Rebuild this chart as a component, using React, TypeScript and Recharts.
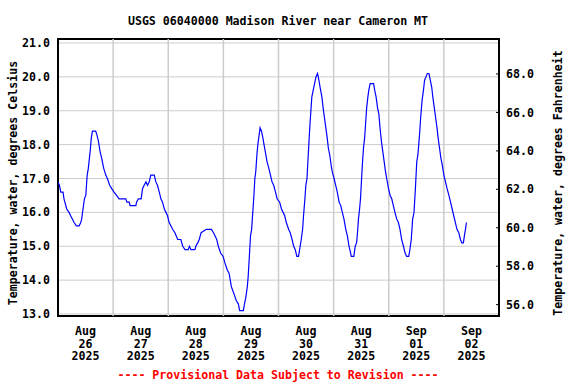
import { LineChart, Line, XAxis, YAxis, CartesianGrid, ReferenceArea, ReferenceLine } from 'recharts'

// hours since Aug 26 2025 00:00
const hours = [
  0, 0.6, 1.2, 2.2, 2.6, 3, 3.8, 4.8, 5.5, 6.3, 7, 8, 9.2, 9.9, 10.3, 10.9, 11.5, 12.1, 12.7, 13.2,
  14, 14.5, 15, 16.4, 16.9, 17.6, 18.3, 19, 19.9, 20.8, 21.5, 22.5, 23.4, 24.4, 25.5, 26.6, 29.5, 30,
  31, 31.4, 33.9, 34.2, 35, 36.2, 36.8, 37.5, 38.3, 39, 39.7, 40.4, 41.9, 42.6, 43.3, 44.1, 44.8, 45.5,
  46.3, 47, 47.7, 48.4, 49.2, 49.9, 50.9, 52.1, 53.5, 54.3, 55.3, 56.7, 57.2, 57.9, 59.6, 60, 60.8,
  61.5, 62.3, 64.6, 66.8, 67.7, 68.4, 69.1, 69.8, 70.8, 71.9, 72.7, 73.7, 74.5, 75.5, 76.6, 77.6, 78.5,
  79.1, 80.7, 81.2, 81.8, 82.4, 82.8, 83.4, 83.8, 84.3, 84.8, 85.3, 85.7, 86.1, 86.6, 87, 87.4, 88,
  88.6, 89.2, 89.7, 90.5, 91, 91.8, 92.5, 93.2, 93.9, 94.7, 95.4, 96.5, 97.3, 98, 98.7, 99.4, 100.4,
  101.1, 101.9, 102.6, 103.3, 104, 104.7, 105.2, 105.9, 106.5, 106.9, 107.5, 107.9, 108.4, 108.8,
  109.2, 109.7, 110.1, 110.5, 111.1, 111.7, 112.3, 113, 113.6, 114.1, 114.9, 115.4, 116, 116.6, 117.2,
  117.7, 118.3, 118.9, 119.4, 120.2, 120.9, 121.6, 122.4, 123.1, 123.8, 124.5, 125.3, 126, 126.7,
  127.4, 127.7, 128.8, 129.4, 130, 130.4, 130.8, 131.3, 131.7, 132.1, 132.5, 133, 133.5, 133.9, 134.4,
  134.9, 135.3, 135.9, 137.4, 137.9, 138.5, 139.1, 139.7, 140.2, 140.8, 141.4, 142, 142.6, 143.1,
  143.9, 144.6, 145.3, 146, 146.7, 147.5, 148.2, 148.9, 149.6, 150.4, 151.1, 151.8, 152.7, 153.2,
  153.8, 154.4, 155, 155.6, 156.2, 156.7, 157.3, 157.9, 158.5, 159.1, 159.6, 160.2, 160.8, 161.5,
  162.1, 162.7, 163.2, 163.8, 164.4, 165, 165.5, 166.1, 166.7, 167.3, 168, 168.7, 169.4, 170.2, 170.9,
  171.6, 172.3, 173, 173.7, 174.5, 175.2, 175.8, 176.5, 176.9, 177.4, 177.8,
]

const tempC = [
  16.9, 16.8, 16.6, 16.6, 16.4, 16.3, 16.1, 16.0, 15.9, 15.8, 15.7, 15.6, 15.6, 15.7, 15.8, 16.1, 16.4, 16.5, 17.1, 17.3,
  17.8, 18.2, 18.4, 18.4, 18.3, 18.1, 17.8, 17.6, 17.3, 17.1, 17.0, 16.8, 16.7, 16.6, 16.5, 16.4, 16.4, 16.3,
  16.3, 16.2, 16.2, 16.3, 16.4, 16.4, 16.7, 16.8, 16.9, 16.8, 16.9, 17.1, 17.1, 16.9, 16.8, 16.6, 16.4, 16.3,
  16.1, 16.0, 15.9, 15.7, 15.6, 15.5, 15.4, 15.2, 15.2, 15.0, 14.9, 14.9, 15.0, 14.9, 14.9, 15.0, 15.1,
  15.2, 15.4, 15.5, 15.5, 15.4, 15.3, 15.2, 15.0, 14.8, 14.7, 14.5, 14.3, 14.2, 13.8, 13.6, 13.4, 13.3,
  13.1, 13.1, 13.3, 13.5, 13.8, 14.1, 14.8, 15.3, 15.5, 16.0, 16.5, 17.0, 17.2, 17.7, 18.0, 18.2, 18.5,
  18.4, 18.2, 18.0, 17.7, 17.5, 17.3, 17.1, 16.9, 16.8, 16.6, 16.4, 16.3, 16.1, 16.0, 15.9, 15.7, 15.5,
  15.4, 15.2, 15.0, 14.9, 14.7, 14.7, 14.9, 15.2, 15.5, 15.9, 16.4, 16.8, 17.0, 17.5,
  18.0, 18.6, 19.0, 19.4, 19.6, 19.8, 20.0, 20.1, 19.9, 19.7, 19.4, 19.1, 18.8, 18.5, 18.2,
  17.9, 17.7, 17.4, 17.2, 17.0, 16.8, 16.6, 16.3, 16.2, 16.0, 15.8, 15.5, 15.3, 15.0,
  14.8, 14.7, 14.7, 15.0, 15.1, 15.4, 15.8, 16.1, 16.4, 16.9, 17.4, 17.9, 18.2, 18.6, 19.1,
  19.4, 19.6, 19.8, 19.8, 19.6, 19.4, 19.1, 18.9, 18.5, 18.1, 17.8, 17.5, 17.2, 17.0,
  16.7, 16.5, 16.4, 16.2, 16.0, 15.8, 15.7, 15.5, 15.2, 15.0, 14.8, 14.7, 14.7, 14.9,
  15.2, 15.8, 16.0, 16.7, 17.5, 17.7, 18.2, 18.8, 19.3, 19.6, 19.9, 20.0, 20.1, 20.1,
  19.9, 19.7, 19.4, 19.1, 18.8, 18.5, 18.2, 17.9, 17.6, 17.4, 17.1, 16.9, 16.7, 16.5, 16.3,
  16.1, 15.9, 15.7, 15.5, 15.4, 15.2, 15.1, 15.1, 15.3, 15.5, 15.7,
]

const midnightTicks = [24, 48, 72, 96, 120, 144, 168]
const dayTicks = [12, 36, 60, 84, 108, 132, 156, 180]
const dayMonths = ['Aug', 'Aug', 'Aug', 'Aug', 'Aug', 'Aug', 'Sep', 'Sep']
const dayNums = ['26', '27', '28', '29', '30', '31', '01', '02']
const dayYears = ['2025', '2025', '2025', '2025', '2025', '2025', '2025', '2025']
const celsiusTicks = [13, 14, 15, 16, 17, 18, 19, 20, 21]
const fahrenheitTicks = [56, 58, 60, 62, 64, 66, 68]

const cDomain = [12.941, 21.118]
const fDomain = [55.41, 69.82]

const data = hours.map((h, i) => ({ h, c: tempC[i], f: tempC[i] * 1.8 + 32 }))

const FONT = '"DejaVu Sans Mono", monospace'
const textStyle = { fontFamily: FONT, fontWeight: 'bold' as const, fontSize: 11.6 }

function DayTick({ x, y, payload }: any) {
  const i = dayTicks.indexOf(payload.value)
  if (i < 0) return null
  return (
    <text x={x} textAnchor='middle' fill='#000' style={textStyle}>
      <tspan x={x} y={y + 19}>{dayMonths[i]}</tspan>
      <tspan x={x} y={y + 31.5}>{dayNums[i]}</tspan>
      <tspan x={x} y={y + 44}>{dayYears[i]}</tspan>
    </text>
  )
}

function FTick({ x, y, payload }: any) {
  return (
    <g>
      <line x1={x - 7} x2={x - 10} y1={y} y2={y} stroke='#000' strokeWidth={1} />
      <text x={x} y={y} dy='0.36em' textAnchor='start' fill='#000' style={textStyle}>
        {payload.value.toFixed(1)}
      </text>
    </g>
  )
}

export default function App() {
  return (
    <div style={{ position: 'absolute', left: 0, top: 0, width: 576, height: 384, background: '#fff' }}>
      <LineChart width={576} height={384} data={data} margin={{ top: 39, right: 0, bottom: 8, left: 0 }}>
        <XAxis
          dataKey='h'
          type='number'
          domain={[0, 192]}
          ticks={dayTicks}
          allowDataOverflow
          height={60}
          tickSize={0}
          tickMargin={0}
          axisLine={false}
          tickLine={false}
          interval={0}
          tick={<DayTick />}
        />
        <YAxis
          type='number'
          domain={cDomain}
          ticks={celsiusTicks}
          allowDataOverflow
          width={58}
          tickSize={0}
          tickMargin={8}
          axisLine={false}
          tickLine={false}
          interval={0}
          tickFormatter={(v: number) => v.toFixed(1)}
          tick={{ fill: '#000', ...textStyle }}
        />
        <YAxis
          yAxisId='f'
          orientation='right'
          type='number'
          domain={fDomain}
          ticks={fahrenheitTicks}
          allowDataOverflow
          width={77}
          tickSize={0}
          tickMargin={7}
          axisLine={false}
          tickLine={false}
          interval={0}
          tick={<FTick />}
        />
        <CartesianGrid stroke='#cccccc' strokeWidth={1} vertical={false} />
        {midnightTicks.map((t) => (
          <ReferenceLine key={t} x={t} stroke='#cccccc' strokeWidth={1.5} />
        ))}
        <ReferenceArea
          x1={0}
          x2={192}
          y1={cDomain[0]}
          y2={cDomain[1]}
          fill='none'
          stroke='#000'
          strokeWidth={2}
          ifOverflow='visible'
        />
        <Line
          dataKey='c'
          type='linear'
          stroke='#0000ff'
          strokeWidth={1.2}
          dot={false}
          isAnimationActive={false}
        />
        <Line
          yAxisId='f'
          dataKey='f'
          stroke='none'
          dot={false}
          activeDot={false}
          isAnimationActive={false}
        />
      </LineChart>
      <svg
        width={576}
        height={384}
        style={{ position: 'absolute', left: 0, top: 0, pointerEvents: 'none' }}
      >
        <text x={278} y={25} textAnchor='middle' fill='#000' style={textStyle}>
          USGS 06040000 Madison River near Cameron MT
        </text>
        <text x={17} y={183} textAnchor='middle' fill='#000' transform='rotate(-90 17 183)' style={textStyle}>
          Temperature, water, degrees Celsius
        </text>
        <text x={562} y={183} textAnchor='middle' fill='#000' transform='rotate(-90 562 183)' style={textStyle}>
          Temperature, water, degrees Fahrenheit
        </text>
        <text x={278} y={379} textAnchor='middle' fill='#ff0000' style={textStyle}>
          ---- Provisional Data Subject to Revision ----
        </text>
      </svg>
    </div>
  )
}
